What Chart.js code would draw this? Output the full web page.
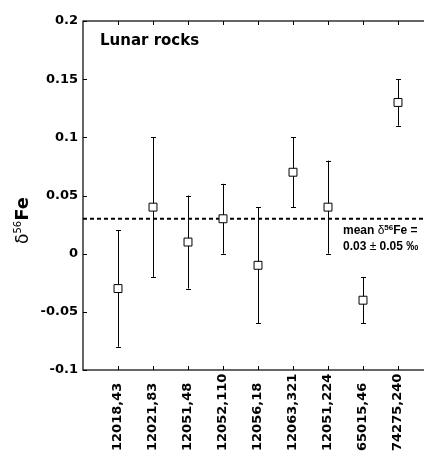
<!DOCTYPE html>
<html>
<head>
<meta charset="utf-8">
<script src="https://cdn.jsdelivr.net/npm/chart.js@4.4.1/dist/chart.umd.min.js"></script>
<style>
  html, body { margin: 0; padding: 0; overflow: hidden; background: #fff; }
</style>
</head>
<body>
<canvas id="myChart" width="450" height="456"></canvas>
<script>
// sample names and d56Fe values
const samples = ['12018,43', '12021,83', '12051,48', '12052,110', '12056,18',
                 '12063,321', '12051,224', '65015,46', '74275,240'];
const d56Fe   = [-0.03, 0.04, 0.01, 0.03, -0.01, 0.07, 0.04, -0.04, 0.13];
const errLow  = [-0.08, -0.02, -0.03, 0.00, -0.06, 0.04, 0.00, -0.06, 0.11];
const errHigh = [0.02, 0.10, 0.05, 0.06, 0.04, 0.10, 0.08, -0.02, 0.15];
const MEAN = 0.03;
const yTicks = [-0.1, -0.05, 0, 0.05, 0.1, 0.15, 0.2];
const yTickLabels = ['-0.1', '-0.05', '0', '0.05', '0.1', '0.15', '0.2'];

const FONT = '"DejaVu Sans", sans-serif';
const NOTE_FONT = '"Liberation Sans", Arial, sans-serif';

// draws a run of text pieces with different fonts / offsets
function drawRich(ctx, parts, x, y) {
    let cx = x;
    parts.forEach(p => {
        ctx.font = p.font;
        ctx.fillText(p.text, cx, y - (p.rise || 0));
        cx += ctx.measureText(p.text).width;
    });
}

const framePlugin = {
    id: 'frame',
    beforeDatasetsDraw(chart) {
        const ctx = chart.ctx;
        const xs = chart.scales.x, ys = chart.scales.y;
        const area = chart.chartArea;
        ctx.save();
        ctx.strokeStyle = '#000';
        ctx.lineWidth = 1.2;
        ctx.strokeRect(area.left, area.top, area.right - area.left, area.bottom - area.top);

        // inward ticks
        ctx.lineWidth = 1;
        ctx.beginPath();
        samples.forEach((s, i) => {
            const x = Math.round(xs.getPixelForValue(i + 1)) + 0.5;
            ctx.moveTo(x, area.top); ctx.lineTo(x, area.top + 4);
            ctx.moveTo(x, area.bottom); ctx.lineTo(x, area.bottom - 4);
        });
        yTicks.forEach(v => {
            const y = Math.round(ys.getPixelForValue(v)) + 0.5;
            ctx.moveTo(area.left, y); ctx.lineTo(area.left + 4, y);
        });
        ctx.stroke();

        // error bars
        ctx.beginPath();
        samples.forEach((s, i) => {
            const x = Math.round(xs.getPixelForValue(i + 1)) + 0.5;
            const y1 = ys.getPixelForValue(errLow[i]);
            const y2 = ys.getPixelForValue(errHigh[i]);
            ctx.moveTo(x, y1); ctx.lineTo(x, y2);
            ctx.moveTo(x - 2.5, Math.round(y1) + 0.5); ctx.lineTo(x + 2.5, Math.round(y1) + 0.5);
            ctx.moveTo(x - 2.5, Math.round(y2) + 0.5); ctx.lineTo(x + 2.5, Math.round(y2) + 0.5);
        });
        ctx.stroke();
        ctx.restore();
    },
    afterDraw(chart) {
        const ctx = chart.ctx;
        const xs = chart.scales.x;
        ctx.save();
        ctx.fillStyle = '#000';

        // category labels, reading bottom to top
        ctx.font = 'bold 13px ' + FONT;
        ctx.textAlign = 'left';
        ctx.textBaseline = 'middle';
        samples.forEach((s, i) => {
            const x = xs.getPixelForValue(i + 1);
            ctx.save();
            ctx.translate(x, 451);
            ctx.rotate(-Math.PI / 2);
            ctx.fillText(s, 0, 0);
            ctx.restore();
        });

        ctx.textBaseline = 'alphabetic';
        ctx.font = 'bold 15px ' + FONT;
        ctx.fillText('Lunar rocks', 100, 45);

        drawRich(ctx, [
            { text: 'mean ', font: 'bold 12px ' + NOTE_FONT },
            { text: 'δ', font: '12px ' + NOTE_FONT },
            { text: '56', font: 'bold 8px ' + NOTE_FONT, rise: 4 },
            { text: 'Fe =', font: 'bold 12px ' + NOTE_FONT }
        ], 343, 234);
        drawRich(ctx, [
            { text: '0.03 ', font: 'bold 12px ' + NOTE_FONT },
            { text: '±', font: '12px ' + NOTE_FONT },
            { text: ' 0.05 ‰', font: 'bold 12px ' + NOTE_FONT }
        ], 343, 250);

        // y axis title
        ctx.save();
        ctx.translate(28, 244);
        ctx.rotate(-Math.PI / 2);
        drawRich(ctx, [
            { text: 'δ', font: '17px ' + FONT },
            { text: '56', font: '10px ' + FONT, rise: 7 },
            { text: 'Fe', font: 'bold 18px ' + FONT }
        ], 0, 0);
        ctx.restore();

        ctx.restore();
    }
};

const chart = new Chart(document.getElementById('myChart').getContext('2d'), {
    type: 'line',
    data: {
        datasets: [{
            label: 'd56Fe',
            data: d56Fe.map((v, i) => ({ x: i + 1, y: v })),
            showLine: false,
            pointStyle: 'rect',
            pointRadius: 5.6,
            pointBackgroundColor: '#fff',
            pointBorderColor: '#000',
            pointBorderWidth: 1
        }, {
            label: 'mean',
            data: [{ x: 0, y: MEAN }, { x: 10, y: MEAN }],
            borderColor: '#000',
            borderWidth: 2,
            borderDash: [4, 3],
            pointRadius: 0
        }]
    },
    options: {
        responsive: false,
        animation: false,
        layout: { padding: { top: 21, right: 17, left: 0, bottom: 0 } },
        plugins: {
            legend: { display: false },
            tooltip: { enabled: false }
        },
        scales: {
            x: {
                type: 'linear',
                min: 0,
                max: 10,
                grid: { display: false, drawTicks: false },
                border: { display: false },
                ticks: { display: false },
                afterFit: s => { s.height = 86; }
            },
            y: {
                type: 'linear',
                min: -0.1,
                max: 0.2,
                afterBuildTicks: s => { s.ticks = yTicks.map(v => ({ value: v })); },
                grid: { display: false, drawTicks: false },
                border: { display: false },
                ticks: {
                    color: '#000',
                    padding: 5,
                    font: { family: FONT, size: 13, weight: 'bold' },
                    callback: v => yTickLabels[yTicks.indexOf(v)]
                },
                afterFit: s => { s.width = 83; }
            }
        }
    },
    plugins: [framePlugin]
});
</script>
</body>
</html>
